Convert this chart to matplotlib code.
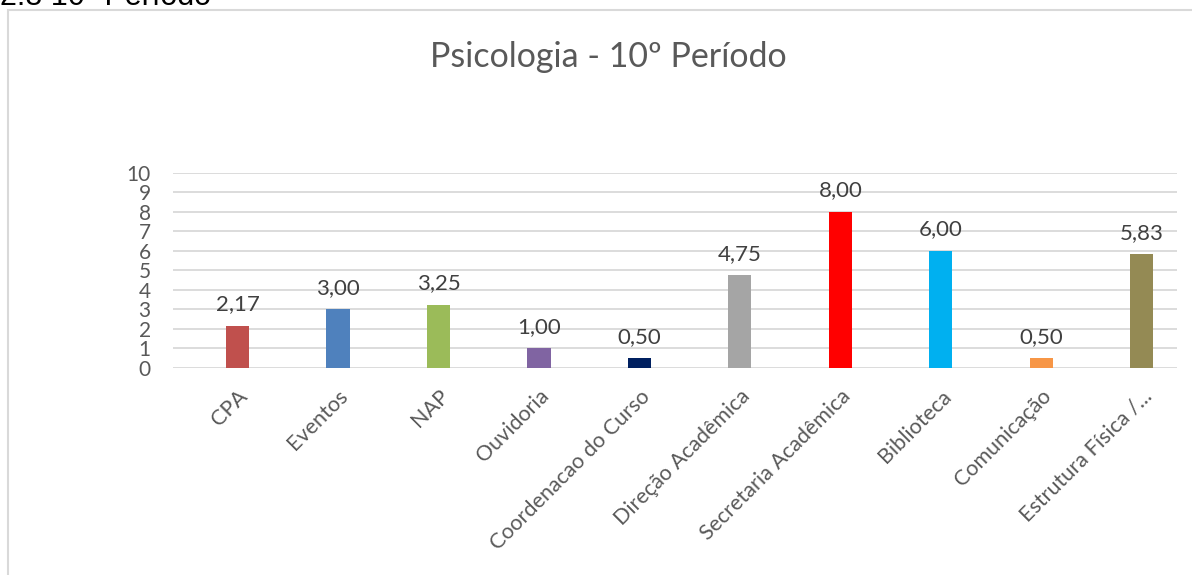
import matplotlib
matplotlib.use("Agg")
import matplotlib.pyplot as plt
import matplotlib.transforms as mtransforms
from matplotlib.patches import Rectangle

# dados do grafico
categorias = ["CPA", "Eventos", "NAP", "Ouvidoria", "Coordenacao do Curso",
              "Direção Acadêmica", "Secretaria Acadêmica", "Biblioteca",
              "Comunicação", "Estrutura Física /..."]
notas = [2.17, 3.00, 3.25, 1.00, 0.50, 4.75, 8.00, 6.00, 0.50, 5.83]
cores = ["#C0504D", "#4F81BD", "#9BBB59", "#8064A2", "#002060",
         "#A5A5A5", "#FF0000", "#00B0F0", "#F79646", "#948A54"]
yticks = list(range(0, 11))

plt.rcParams['font.family'] = ['Lato', 'DejaVu Sans']

fig = plt.figure(figsize=(11.92, 5.75), dpi=100)

# moldura do grafico
fig.patches.append(Rectangle((8 / 1192, -0.1), 1.2, 1 - 10 / 575 + 0.1,
                             transform=fig.transFigure, fill=False,
                             edgecolor="#D9D9D9", linewidth=1.5))
fig.text(0.0, 1 - 5 / 575, "2.8 10º Período", fontsize=22, color="#000000",
         family=['Liberation Sans', 'DejaVu Sans'], va='baseline', ha='left')

ax = fig.add_axes([173 / 1192, 1 - 368 / 575, (1177 - 173) / 1192, (368 - 172.7) / 575])

x = list(range(len(categorias)))
ax.bar(x, notas, width=0.23, color=cores, zorder=3)

for xi, v in zip(x, notas):
    ax.annotate(f"{v:.2f}".replace(".", ","), (xi, v), xytext=(0, 11),
                textcoords="offset points", ha="center", va="baseline",
                fontsize=16, color="#404040")

ax.set_ylim(0, 10)
ax.set_xlim(-0.642, 9.35)
ax.set_yticks(yticks)
ax.set_yticklabels([str(t) for t in yticks], fontsize=15, color="#595959")
ax.set_xticks(x)
ax.set_xticklabels(categorias, rotation=45, ha="right", rotation_mode="anchor",
                   fontsize=15.5, color="#595959")
shift = mtransforms.ScaledTranslation(-11 / 100, 0, fig.dpi_scale_trans)
for lab in ax.get_xticklabels():
    lab.set_transform(lab.get_transform() + shift)
ax.tick_params(axis="both", length=0)
ax.tick_params(axis="y", pad=16)
ax.tick_params(axis="x", pad=13)
ax.grid(axis="y", color="#D9D9D9", linewidth=1.3, zorder=0)
for s in ax.spines.values():
    s.set_visible(False)

fig.text(608 / 1192, 1 - 57 / 575, "Psicologia - 10º Período", fontsize=24.5,
         color="#595959", ha="center", va="center")

fig.savefig("out.png", dpi=100)
